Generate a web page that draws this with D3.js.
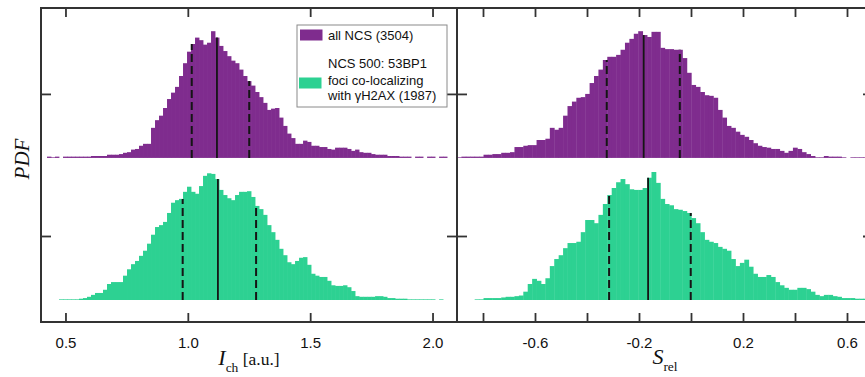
<!DOCTYPE html>
<html>
<head>
<meta charset="utf-8">
<script src="https://cdn.jsdelivr.net/npm/d3@7"></script>
<style>
  body { margin: 0; background: #fff; }
  svg { display: block; }
</style>
</head>
<body>
<svg id="chart" width="865" height="377"></svg>
<script>
// bin layout of the histograms
const ichStart = 0.4245, ichStep = 0.01635;
const srelStart = -0.9, srelStep = 0.017;

// PDF values per bin
const ichAll = [
  0.02,0.01,0.02,0,0.02,0.02,0.02,0.02,0.02,0.02,0.02,0.03,0.03,
  0.03,0.03,0.05,0.05,0.05,0.06,0.08,0.09,0.13,0.14,0.19,0.22,0.22,
  0.47,0.59,0.66,0.78,0.92,1.02,1.11,1.28,1.48,1.66,1.78,1.88,1.84,1.77,1.80,
  1.98,1.88,1.75,1.67,1.59,1.52,1.48,1.38,1.28,1.20,1.13,1.03,0.95,0.86,0.75,
  0.77,0.78,0.63,0.50,0.38,0.31,0.22,0.22,0.27,0.25,0.19,0.19,0.17,0.17,0.14,
  0.13,0.16,0.16,0.16,0.14,0.11,0.13,0.09,0.08,0.08,0.06,0.05,0.05,0.05,0.03,
  0.03,0.03,0.02,0.02,0.02,0,0.02,0.02,0,0.02,0.02,0,0.02,0.02,0
];
const ichFoci = [
  0,0,0,0.01,0.01,0.01,0.01,0.01,0.02,0.03,0.05,0.08,0.11,
  0.11,0.16,0.25,0.28,0.28,0.28,0.38,0.48,0.56,0.61,0.69,0.77,0.88,
  1.02,1.14,1.17,1.22,1.36,1.52,1.56,1.58,1.69,1.77,1.69,1.66,1.78,1.94,1.98,
  1.97,1.89,1.72,1.64,1.59,1.56,1.64,1.69,1.69,1.70,1.61,1.47,1.42,1.33,1.17,
  1.06,0.94,0.80,0.70,0.59,0.56,0.61,0.66,0.67,0.55,0.41,0.38,0.36,0.36,0.30,
  0.23,0.22,0.22,0.23,0.20,0.14,0.06,0.05,0.05,0.05,0.05,0.06,0.06,0.05,0.03,
  0.03,0.02,0.02,0.02,0.01,0.01,0.01,0.01,0.01,0.01,0.01,0,0.01,0,0
];
const srelAll = [
  0.01,0.02,0.02,0.02,0.02,0.02,0.05,0.05,0.06,0.06,0.08,0.08,0.09,
  0.17,0.17,0.19,0.20,0.20,0.28,0.28,0.30,0.47,0.44,0.47,0.66,0.81,
  0.88,0.94,0.95,1.00,1.17,1.28,1.38,1.53,1.58,1.58,1.61,1.69,1.80,1.86,1.94,
  1.98,1.92,1.89,1.97,1.97,1.72,1.70,1.70,1.69,1.69,1.56,1.33,1.14,1.11,1.03,
  0.98,0.97,0.94,0.75,0.63,0.50,0.47,0.41,0.36,0.33,0.28,0.23,0.19,0.17,0.16,
  0.14,0.14,0.11,0.08,0.11,0.16,0.14,0.09,0.06,0.03,0.01,0.01,0.03,0.02,0.02,
  0.02,0.01,0,0.01,0.01,0.01,0.01
];
const srelFoci = [
  0,0,0,0,0.01,0.01,0.03,0.03,0.03,0.03,0.04,0.05,0.05,
  0.06,0.07,0.13,0.25,0.33,0.30,0.25,0.34,0.53,0.64,0.70,0.81,0.89,
  0.89,0.91,1.06,1.25,1.25,1.20,1.33,1.50,1.64,1.75,1.84,1.89,1.81,1.73,1.72,
  1.72,1.75,1.91,2.00,1.83,1.58,1.50,1.48,1.42,1.41,1.39,1.36,1.28,1.20,1.06,
  0.94,0.91,0.89,0.83,0.80,0.77,0.64,0.53,0.58,0.63,0.52,0.41,0.36,0.36,0.39,
  0.36,0.28,0.23,0.19,0.16,0.16,0.19,0.19,0.17,0.13,0.08,0.06,0.08,0.08,0.06,
  0.05,0.03,0.03,0.03,0.02,0.02,0.02
];

// [lower dashed, solid, upper dashed]
const ichAllMarks = [1.016, 1.119, 1.251];
const ichFociMarks = [0.979, 1.123, 1.279];
const srelAllMarks = [-0.324, -0.182, -0.043];
const srelFociMarks = [-0.315, -0.165, -0.001];

const ichTicks = [0.5, 1.0, 1.5, 2.0];
const srelTicks = [-0.8, -0.6, -0.4, -0.2, 0, 0.2, 0.4, 0.6];
const srelLabelled = [-0.6, -0.2, 0.2, 0.6];
const pdfTicks = [1];
const stackOffset = 2.22;   // upper histograms sit on top of this

const legendLabels = ["all NCS (3504)", "NCS 500: 53BP1", "foci co-localizing", "with \u03b3H2AX (1987)"];

const purple = "#7f2c8e";
const green = "#2dd192";

const svg = d3.select("#chart");
const pLeft = 41, pMid = 457, pRight = 873, pTop = 8, pBottom = 322;

const xI = d3.scaleLinear().domain([0.4, 2.1]).range([pLeft, pMid]);
const xS = d3.scaleLinear().domain([-0.9, 0.7]).range([pMid, pRight]);
const y = d3.scaleLinear().domain([-0.34375, 4.5625]).range([pBottom, pTop]);

function drawHist(x, start, step, values, offset, color) {
  const bins = values.map((v, i) => ({x0: start + i * step, v: v})).filter(d => d.v > 0);
  svg.append("g").selectAll("rect")
    .data(bins)
    .join("rect")
    .attr("x", d => x(d.x0))
    .attr("width", d => x(d.x0 + step) - x(d.x0) + 0.4)
    .attr("y", d => y(d.v + offset))
    .attr("height", d => y(offset) - y(d.v + offset))
    .attr("fill", color);
}

function drawMarks(x, start, step, values, offset, marks) {
  marks.forEach((m, k) => {
    const h = values[Math.floor((m - start) / step)];
    svg.append("line")
      .attr("x1", x(m)).attr("x2", x(m))
      .attr("y1", y(offset)).attr("y2", y(offset + h))
      .attr("stroke", "#151515")
      .attr("stroke-width", k == 1 ? 1.8 : 2)
      .attr("stroke-dasharray", k == 1 ? null : "8,4");
  });
}

drawHist(xI, ichStart, ichStep, ichAll, stackOffset, purple);
drawHist(xI, ichStart, ichStep, ichFoci, 0, green);
drawHist(xS, srelStart, srelStep, srelAll, stackOffset, purple);
drawHist(xS, srelStart, srelStep, srelFoci, 0, green);

drawMarks(xI, ichStart, ichStep, ichAll, stackOffset, ichAllMarks);
drawMarks(xI, ichStart, ichStep, ichFoci, 0, ichFociMarks);
drawMarks(xS, srelStart, srelStep, srelAll, stackOffset, srelAllMarks);
drawMarks(xS, srelStart, srelStep, srelFoci, 0, srelFociMarks);

// axes
const yTickVals = pdfTicks.concat(pdfTicks.map(t => t + stackOffset));
const tickFont = "'Liberation Sans', Arial, sans-serif";

function styleAxis(g) {
  g.select(".domain").remove();
  g.selectAll("line").attr("stroke", "#333").attr("stroke-width", 1.8);
  g.selectAll("text").attr("font-family", tickFont).attr("font-size", 15).attr("fill", "#111");
}

svg.append("g").attr("transform", `translate(0,${pTop})`)
  .call(d3.axisTop(xI).tickValues(ichTicks).tickSize(-9).tickFormat(""))
  .call(styleAxis);
svg.append("g").attr("transform", `translate(0,${pTop})`)
  .call(d3.axisTop(xS).tickValues(srelTicks).tickSize(-9).tickFormat(""))
  .call(styleAxis);
svg.append("g").attr("transform", `translate(0,${pBottom})`)
  .call(d3.axisBottom(xI).tickValues(ichTicks).tickSize(-9).tickPadding(15).tickFormat(d3.format(".1f")))
  .call(styleAxis);
svg.append("g").attr("transform", `translate(0,${pBottom})`)
  .call(d3.axisBottom(xS).tickValues(srelTicks).tickSize(-9).tickPadding(15)
    .tickFormat(d => srelLabelled.some(v => Math.abs(v - d) < 1e-9) ? d3.format(".1f")(d).replace("\u2212", "-") : ""))
  .call(styleAxis);

svg.append("g").attr("transform", `translate(${pLeft},0)`)
  .call(d3.axisLeft(y).tickValues(yTickVals).tickSize(-10).tickFormat(""))
  .call(styleAxis);
svg.append("g").attr("transform", `translate(${pMid},0)`)
  .call(d3.axisLeft(y).tickValues(yTickVals).tickSize(10).tickFormat(""))
  .call(styleAxis);
svg.append("g").attr("transform", `translate(${pMid},0)`)
  .call(d3.axisRight(y).tickValues(yTickVals).tickSize(10).tickFormat(""))
  .call(styleAxis);
svg.append("g").attr("transform", `translate(${pRight},0)`)
  .call(d3.axisRight(y).tickValues(yTickVals).tickSize(-10).tickFormat(""))
  .call(styleAxis);

// frame
svg.append("rect")
  .attr("x", pLeft).attr("y", pTop)
  .attr("width", pRight - pLeft).attr("height", pBottom - pTop)
  .attr("fill", "none").attr("stroke", "#333").attr("stroke-width", 2);
svg.append("line")
  .attr("x1", pMid).attr("x2", pMid).attr("y1", pTop).attr("y2", pBottom)
  .attr("stroke", "#333").attr("stroke-width", 2);

// axis titles
const serif = "'Liberation Serif', 'Times New Roman', serif";
const xTitle1 = svg.append("text")
  .attr("x", (pLeft + pMid) / 2).attr("y", 365)
  .attr("text-anchor", "middle").attr("font-family", serif).attr("fill", "#111");
xTitle1.append("tspan").attr("font-style", "italic").attr("font-size", 22).text("I");
xTitle1.append("tspan").attr("font-size", 13.5).attr("dy", 7).text("ch");
xTitle1.append("tspan").attr("font-size", 17.5).attr("dy", -7).text(" [a.u.]");

const xTitle2 = svg.append("text")
  .attr("x", (pMid + pRight) / 2).attr("y", 364)
  .attr("text-anchor", "middle").attr("font-family", serif).attr("fill", "#111");
xTitle2.append("tspan").attr("font-style", "italic").attr("font-size", 22).text("S");
xTitle2.append("tspan").attr("font-size", 13.5).attr("dy", 7).text("rel");

svg.append("text")
  .attr("transform", "translate(29,159) rotate(-90)")
  .attr("text-anchor", "middle")
  .attr("font-family", serif).attr("font-style", "italic").attr("font-size", 21)
  .attr("fill", "#111")
  .text("PDF");

// legend
const legend = svg.append("g").attr("font-family", tickFont).attr("font-size", 13).attr("fill", "#111");
legend.append("rect")
  .attr("x", 297).attr("y", 25).attr("width", 150).attr("height", 82)
  .attr("fill", "#fff").attr("stroke", "#8a8a8a").attr("stroke-width", 1);
legend.append("rect").attr("x", 300).attr("y", 29.5).attr("width", 22.5).attr("height", 11).attr("fill", purple);
legend.append("rect").attr("x", 299).attr("y", 77.5).attr("width", 22.5).attr("height", 11).attr("fill", green);
const legendY = [40, 68, 85, 100];
legend.selectAll("text.lab")
  .data(legendLabels)
  .join("text")
  .attr("class", "lab")
  .attr("x", 328)
  .attr("y", (d, i) => legendY[i])
  .text(d => d);
</script>
</body>
</html>
